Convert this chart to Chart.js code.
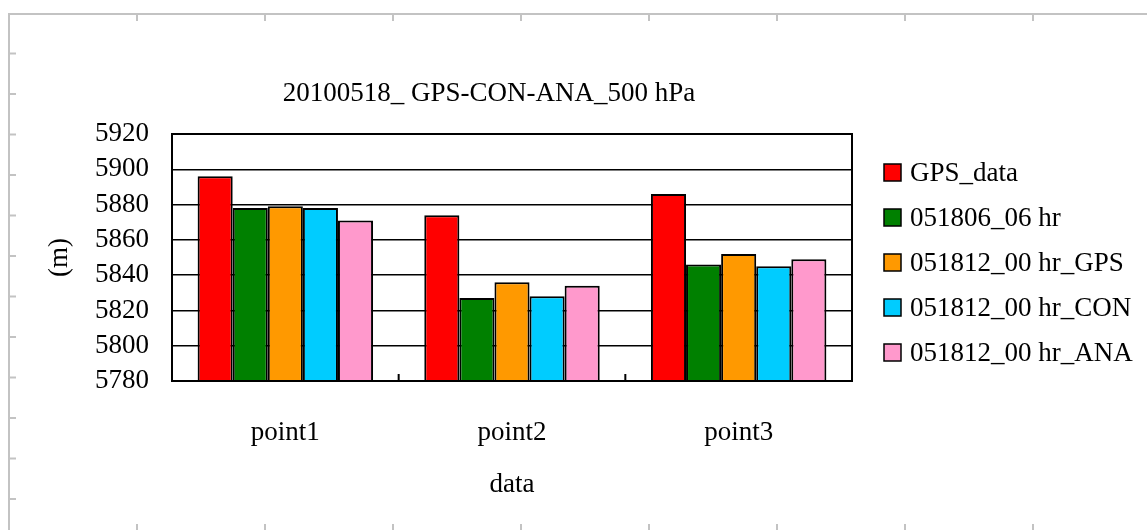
<!DOCTYPE html>
<html>
<head>
<meta charset="utf-8">
<script src="https://cdn.jsdelivr.net/npm/chart.js@4/dist/chart.umd.min.js"></script>
<style>
  html, body { margin: 0; padding: 0; background: #fff; }
  #wrap { width: 1147px; height: 530px; position: relative; }
</style>
</head>
<body>
<div id="wrap"><canvas id="c" width="1147" height="530"></canvas></div>
<script>
// 500 hPa geopotential height (m) at three points, 2010-05-18
const categories = ['point1', 'point2', 'point3'];
const seriesNames = ['GPS_data', '051806_06 hr', '051812_00 hr_GPS', '051812_00 hr_CON', '051812_00 hr_ANA'];
const gpsData   = [5896, 5874, 5886];
const run0606   = [5878, 5827, 5846];
const run1200GPS = [5879, 5836, 5852];
const run1200CON = [5878, 5828, 5845];
const run1200ANA = [5871, 5834, 5849];
const seriesColors = ['#FF0000', '#008000', '#FF9900', '#00CCFF', '#FF99CC'];
const yMin = 5780, yMax = 5920, yStep = 20;
const chartTitle = '20100518_ GPS-CON-ANA_500 hPa';
const xTitle = 'data';
const yTitle = '(m)';

const FONT = 'Liberation Serif, Times New Roman, serif';
const seriesValues = [gpsData, run0606, run1200GPS, run1200CON, run1200ANA];

// light grey sheet border with cell tick marks
const sheetFrame = {
  id: 'sheetFrame',
  beforeDraw(chart) {
    const ctx = chart.ctx;
    ctx.save();
    ctx.strokeStyle = '#c3c3c3';
    ctx.lineWidth = 2;
    ctx.beginPath();
    ctx.moveTo(9, 530); ctx.lineTo(9, 14); ctx.lineTo(1147, 14);
    ctx.stroke();
    ctx.beginPath();
    for (let x = 137; x < 1147; x += 128) {
      ctx.moveTo(x, 14); ctx.lineTo(x, 21);
      ctx.moveTo(x, 524); ctx.lineTo(x, 530);
    }
    for (let y = 53.5; y < 530; y += 40.5) {
      ctx.moveTo(9, y); ctx.lineTo(16, y);
    }
    ctx.stroke();
    ctx.restore();
  }
};

// plot frame, category boundary ticks, title and legend
const decorations = {
  id: 'decorations',
  afterDatasetsDraw(chart) {
    const ctx = chart.ctx;
    const a = chart.chartArea;
    const xs = chart.scales.x;
    ctx.save();
    ctx.strokeStyle = '#000';
    ctx.lineWidth = 2;
    ctx.strokeRect(a.left, a.top, a.right - a.left, a.bottom - a.top);
    // inward tick marks between categories
    const step = (a.right - a.left) / categories.length;
    ctx.beginPath();
    for (let i = 0; i <= categories.length; i++) {
      const x = xs.getPixelForValue(0) - step / 2 + i * step;
      ctx.moveTo(x, a.bottom); ctx.lineTo(x, a.bottom - 7);
    }
    ctx.stroke();

    // title
    ctx.fillStyle = '#000';
    ctx.font = '27px ' + FONT;
    ctx.textAlign = 'center';
    ctx.textBaseline = 'alphabetic';
    ctx.fillText(chartTitle, 489, 101);

    // legend
    ctx.textAlign = 'left';
    ctx.textBaseline = 'middle';
    chart.data.datasets.forEach((ds, i) => {
      const cy = 173 + i * 45;
      ctx.fillStyle = ds.backgroundColor;
      ctx.fillRect(884, cy - 9, 17, 17);
      ctx.lineWidth = 1.5;
      ctx.strokeStyle = '#000';
      ctx.strokeRect(884, cy - 9, 17, 17);
      ctx.fillStyle = '#000';
      ctx.fillText(ds.label, 910, cy + 1);
    });
    ctx.restore();
  }
};

new Chart(document.getElementById('c'), {
  type: 'bar',
  data: {
    labels: categories,
    datasets: seriesNames.map((name, i) => ({
      label: name,
      data: seriesValues[i],
      backgroundColor: seriesColors[i],
      borderColor: '#000',
      borderWidth: 2,
      categoryPercentage: 0.774,
      barPercentage: 1.0
    }))
  },
  options: {
    responsive: false,
    animation: false,
    devicePixelRatio: 1,
    layout: { padding: { top: 134, right: 295, bottom: 0, left: 0 } },
    plugins: {
      legend: { display: false },
      title: { display: false },
      tooltip: { enabled: false }
    },
    scales: {
      x: {
        grid: { display: false, drawTicks: false },
        border: { display: true, color: '#000', width: 2 },
        ticks: { color: '#000', font: { family: FONT, size: 27 }, padding: 36 },
        title: { display: true, text: xTitle, color: '#000', font: { family: FONT, size: 27 }, padding: { top: 0, bottom: 29 } },
        afterFit(s) { s.height = 149; }
      },
      y: {
        min: yMin, max: yMax,
        grid: { color: '#000', lineWidth: 1.5, drawTicks: false },
        border: { display: true, color: '#000', width: 2 },
        ticks: {
          stepSize: yStep, autoSkip: false, color: '#000',
          font: { family: FONT, size: 27, lineHeight: 1 }, padding: 23,
          callback: (v) => String(v)
        },
        title: { display: true, text: yTitle, color: '#000', font: { family: FONT, size: 27 }, padding: { top: 44, bottom: 0 } },
        afterFit(s) { s.width = 172; }
      }
    }
  },
  plugins: [sheetFrame, decorations]
});
</script>
</body>
</html>
